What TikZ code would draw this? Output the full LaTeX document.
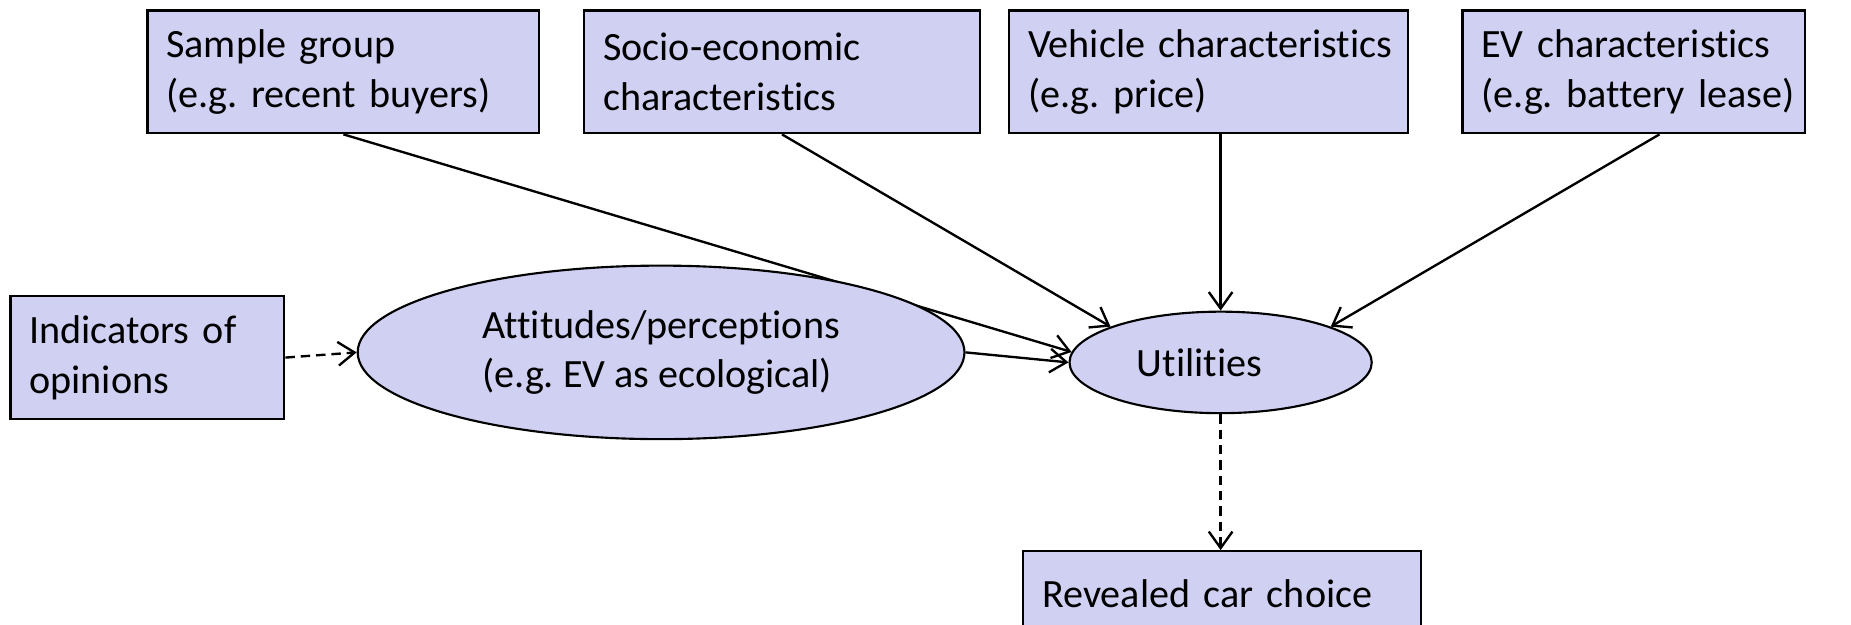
\documentclass[tikz,border=0pt]{standalone}
\usepackage{fontspec}
\setmainfont{Carlito}[Ligatures=NoCommon]
\usetikzlibrary{arrows.meta,shapes.geometric,backgrounds,calc}
\definecolor{boxfill}{RGB}{208,208,243}
\frenchspacing
\hyphenpenalty=10000
\hbadness=10000
\hfuzz=200pt
\tikzset{
  boxnode/.style={draw=black, line width=1.8pt, fill=boxfill, rectangle, anchor=north west,
    inner xsep=16pt, inner ysep=0pt, align=left, minimum height=104pt,
    font=\fontsize{34}{42}\selectfont},
  ellnode/.style={draw=black, line width=1.8pt, fill=boxfill, ellipse, inner sep=0pt,
    align=left, font=\fontsize{34}{42}\selectfont},
  conn/.style={line width=2pt, -{Straight Barb[length=14pt,width=20pt,line width=2pt]}},
  dconn/.style={conn, dash pattern=on 8pt off 5pt}
}
\begin{document}
\begin{tikzpicture}[x=1pt,y=-1pt]
\useasboundingbox (0,0) rectangle (1568,528.6);
\node[boxnode, text width=300pt] (smp) at (124,8) {Sample~group\\(e.g.~recent~buyers)};
\node[boxnode, text width=303pt] (soc) at (494,8) {Socio-economic\\characteristics};
\node[boxnode, text width=306pt] (veh) at (854,8) {Vehicle~characteristics\\(e.g.~price)};
\node[boxnode, text width=258pt] (evc) at (1238,8) {EV~characteristics\\(e.g.~battery~lease)};
\node[boxnode, text width=200pt] (ind) at (8,250) {Indicators~of\\opinions};
\node[ellnode, minimum width=514pt, minimum height=147pt] (att) at (560,298.5) {Attitudes/perceptions\\(e.g. EV as ecological)};
\node[ellnode, minimum width=256pt, minimum height=86pt] (utl) at (1034,307) {Utilities\hspace*{36pt}};
\node[boxnode, text width=305pt, minimum height=72pt] (rev) at (866,466) {Revealed~car~choice};

\begin{scope}[on background layer]
  \draw[conn] (smp.south) -- (utl.176);
\end{scope}
\draw[conn] (soc.south) -- (utl.162);
\draw[conn] (veh.south -| utl.north) -- (utl.north);
\draw[conn] ($(evc.south)!0.15!(evc.south east)$) -- (utl.18);
\draw[conn] (att.east) -- (utl.west);
\draw[dconn] (ind.east) -- (att.west);
\draw[dconn] (utl.south) -- (rev.north -| utl.south);
\end{tikzpicture}
\end{document}
